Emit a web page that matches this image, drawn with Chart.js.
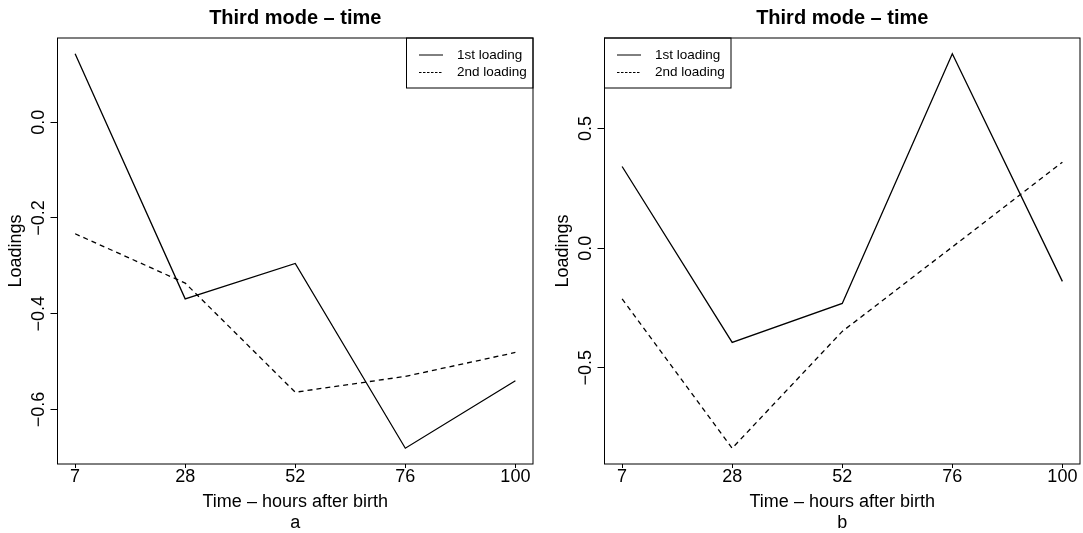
<!DOCTYPE html>
<html>
<head>
<meta charset="utf-8">
<script src="https://cdn.jsdelivr.net/npm/chart.js@4.4.0/dist/chart.umd.min.js"></script>
<style>
  body { margin: 0; background: #fff; }
  #wrap { position: relative; width: 1083px; height: 533px; }
  canvas { position: absolute; top: 0; }
</style>
</head>
<body>
<div id="wrap">
  <canvas id="chartA" width="541" height="533" style="left:0"></canvas>
  <canvas id="chartB" width="542" height="533" style="left:541px"></canvas>
</div>
<script>
// Data
const hours = ['7', '28', '52', '76', '100'];
const seriesNames = ['1st loading', '2nd loading'];
const firstLoadingA = [0.143, -0.369, -0.295, -0.681, -0.540];
const secondLoadingA = [-0.233, -0.336, -0.564, -0.531, -0.481];
const firstLoadingB = [0.341, -0.394, -0.231, 0.812, -0.139];
const secondLoadingB = [-0.212, -0.836, -0.348, 0.005, 0.359];
const yTicksA = [-0.6, -0.4, -0.2, 0.0];
const yTicksB = [-0.5, 0.0, 0.5];

const chartTitle = 'Third mode \u2013 time';
const xTitle = 'Time \u2013 hours after birth';
const yTitle = 'Loadings';
const FONT = '"Liberation Sans", Arial, Helvetica, sans-serif';

// R style box, legend and labels
const rPlot = {
    id: 'rPlot',
    afterDraw(chart, args, opts) {
        const ctx = chart.ctx;
        const a = chart.chartArea;
        const cx = (a.left + a.right) / 2;
        const cy = (a.top + a.bottom) / 2;
        ctx.save();
        ctx.strokeStyle = '#000';
        ctx.lineWidth = 1;
        ctx.strokeRect(a.left, a.top, a.right - a.left, a.bottom - a.top);

        ctx.fillStyle = '#000';
        ctx.textAlign = 'center';
        ctx.textBaseline = 'alphabetic';
        ctx.font = 'bold 20px ' + FONT;
        ctx.fillText(chartTitle, cx, 24);
        ctx.font = '18px ' + FONT;
        ctx.fillText(xTitle, cx, 507);
        ctx.fillText(opts.letter, cx, 528);

        // y tick labels, rotated like R's las = 0
        const ys = chart.scales.y;
        ctx.textBaseline = 'middle';
        ys.ticks.forEach(function (t) {
            const py = ys.getPixelForValue(t.value);
            ctx.save();
            ctx.translate(a.left - 18, py);
            ctx.rotate(-Math.PI / 2);
            ctx.fillText(t.value.toFixed(1).replace('-', '\u2212'), 0, 0);
            ctx.restore();
        });
        ctx.save();
        ctx.translate(a.left - 41, cy);
        ctx.rotate(-Math.PI / 2);
        ctx.fillText(yTitle, 0, 0);
        ctx.restore();

        // legend
        const w = 126.5, h = 50;
        const bx = opts.legendSide === 'right' ? a.right - w : a.left;
        const by = a.top;
        ctx.strokeRect(bx, by, w, h);
        ctx.font = '13.5px ' + FONT;
        ctx.textAlign = 'left';
        chart.data.datasets.forEach(function (ds, i) {
            const ry = by + 17 + i * 17.5;
            ctx.beginPath();
            ctx.setLineDash(ds.borderDash ? [2.5, 1.5] : []);
            ctx.lineWidth = 1;
            ctx.moveTo(bx + 12.5, ry);
            ctx.lineTo(bx + 36.5, ry);
            ctx.stroke();
            ctx.setLineDash([]);
            ctx.fillText(ds.label, bx + 50.5, ry);
        });
        ctx.restore();
    }
};

function makeChart(id, first, second, yTicks, letter, legendSide, leftWidth, rightPad) {
    const all = first.concat(second);
    const lo = Math.min.apply(null, all);
    const hi = Math.max.apply(null, all);
    const pad = 0.04 * (hi - lo);
    const xPad = 0.04 * (hours.length - 1);

    const ctx = document.getElementById(id).getContext('2d');
    return new Chart(ctx, {
        type: 'line',
        data: {
            datasets: [
                {
                    label: seriesNames[0],
                    data: first.map(function (v, i) { return { x: i + 1, y: v }; }),
                    borderColor: '#000',
                    borderWidth: 1.3,
                    pointRadius: 0,
                    tension: 0,
                },
                {
                    label: seriesNames[1],
                    data: second.map(function (v, i) { return { x: i + 1, y: v }; }),
                    borderColor: '#000',
                    borderWidth: 1.3,
                    borderDash: [5, 4],
                    pointRadius: 0,
                    tension: 0,
                },
            ],
        },
        options: {
            responsive: false,
            animation: false,
            events: [],
            layout: { padding: { left: 0, right: rightPad, top: 38, bottom: 0 } },
            plugins: {
                legend: { display: false },
                title: { display: false },
                tooltip: { enabled: false },
                rPlot: { letter: letter, legendSide: legendSide },
            },
            scales: {
                x: {
                    type: 'linear',
                    min: 1 - xPad,
                    max: hours.length + xPad,
                    afterBuildTicks: function (s) {
                        s.ticks = hours.map(function (h, i) { return { value: i + 1 }; });
                    },
                    afterFit: function (s) { s.height = 69; },
                    grid: { drawOnChartArea: false, tickLength: 4, color: '#000' },
                    border: { display: false },
                    ticks: {
                        autoSkip: false,
                        maxRotation: 0,
                        padding: 0,
                        color: '#000',
                        font: { family: FONT, size: 18, lineHeight: 1 },
                        callback: function (v) { return hours[v - 1]; },
                    },
                },
                y: {
                    min: lo - pad,
                    max: hi + pad,
                    afterBuildTicks: function (s) {
                        s.ticks = yTicks.map(function (v) { return { value: v }; });
                    },
                    afterFit: function (s) { s.width = leftWidth; },
                    grid: { drawOnChartArea: false, tickLength: 7, color: '#000' },
                    border: { display: false },
                    ticks: { display: false },
                },
            },
        },
        plugins: [rPlot],
    });
}

makeChart('chartA', firstLoadingA, secondLoadingA, yTicksA, 'a', 'right', 57.5, 8);
makeChart('chartB', firstLoadingB, secondLoadingB, yTicksB, 'b', 'left', 63.5, 3);
</script>
</body>
</html>
